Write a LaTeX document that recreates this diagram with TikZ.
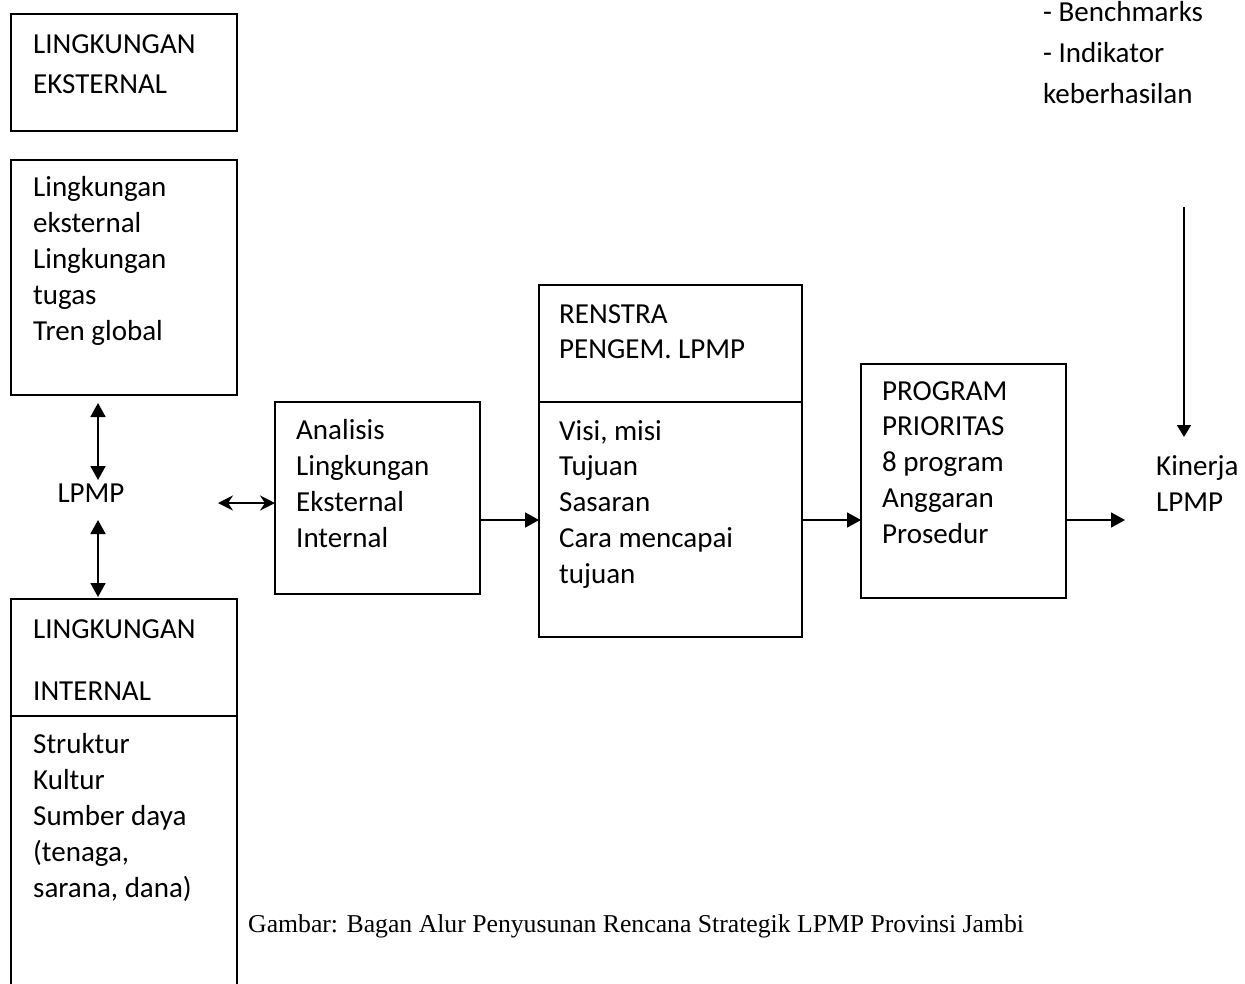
\documentclass[tikz,border=0pt]{standalone}
\usepackage{fontspec}
\setmainfont{Carlito}
\newfontfamily\capfont{Liberation Serif}
\usetikzlibrary{arrows.meta}
\begin{document}
\begin{tikzpicture}[x=1pt,y=-1pt,
  box/.style={draw, line width=1.8pt, inner sep=0pt, outer sep=0pt, anchor=north west},
  txt/.style={anchor=base west, inner sep=0pt, align=left, font=\fontsize{29}{36}\selectfont},
  conn/.style={line width=1.8pt, -{Triangle[length=14pt,width=15pt]}},
  dconn/.style={line width=1.8pt, {Triangle[length=14pt,width=15pt]}-{Triangle[length=14pt,width=15pt]}},
  sconn/.style={line width=1.5pt, {Stealth[length=15pt,width=15pt,inset=5pt]}-{Stealth[length=15pt,width=15pt,inset=5pt]}},
]
\useasboundingbox (0,0) rectangle (1245,983);

% boxes
\node[box, minimum width=226pt, minimum height=117pt] (extA) at (11,14) {};
\node[box, minimum width=226pt, minimum height=235pt] (extB) at (11,160) {};
\node[box, minimum width=226pt, minimum height=420pt] (intl) at (11,599) {};
\draw[line width=1.8pt] (11,716) -- (237,716);
\node[box, minimum width=205pt, minimum height=192pt] (anal) at (275,402) {};
\node[box, minimum width=263pt, minimum height=352pt] (ren) at (539,285) {};
\draw[line width=1.8pt] (539,402) -- (802,402);
\node[box, minimum width=205pt, minimum height=234pt] (prog) at (861,364) {};

% texts (anchor = baseline of the last line)
\node[txt, font=\fontsize{29}{40}\selectfont] (tA) at (33,93) {LINGKUNGAN\\EKSTERNAL};
\node[txt] (tB) at (33,340) {Lingkungan\\eksternal\\Lingkungan\\tugas\\Tren global};
\node[inner sep=0pt, font=\fontsize{29}{36}\selectfont] (lpmp) at (91,493) {LPMP};
\node[txt, font=\fontsize{29}{62}\selectfont] (tI) at (33,700) {LINGKUNGAN\\INTERNAL};
\node[txt] (tI2) at (33,897) {Struktur\\Kultur\\Sumber daya\\(tenaga,\\sarana, dana)};
\node[txt, font=\fontsize{29}{35.7}\selectfont] (tAn) at (296,547) {Analisis\\Lingkungan\\Eksternal\\Internal};
\node[txt, font=\fontsize{29}{35}\selectfont] (tR) at (559,358) {RENSTRA\\PENGEM. LPMP};
\node[txt, font=\fontsize{29}{35.75}\selectfont] (tR2) at (559,583) {Visi, misi\\Tujuan\\Sasaran\\Cara mencapai\\tujuan};
\node[txt, font=\fontsize{29}{35.75}\selectfont] (tP) at (882,543) {PROGRAM\\PRIORITAS\\8 program\\Anggaran\\Prosedur};
\node[txt] (kin) at (1156,511) {Kinerja\\LPMP};
\node[txt, font=\fontsize{29}{41}\selectfont] (bench) at (1043,103) {- Benchmarks\\- Indikator\\keberhasilan};
\node[anchor=base west, inner sep=0pt, font=\capfont\fontsize{25.7}{30}\selectfont] (cap) at (248,932) {Gambar: Bagan Alur Penyusunan Rencana Strategik LPMP Provinsi Jambi};

% connectors
\coordinate (a1) at (98,403);
\coordinate (a2) at (98,480);
\coordinate (a3) at (98,520);
\coordinate (a4) at (98,597);
\draw[dconn] (a1) -- (a2);
\draw[dconn] (a3) -- (a4);
\coordinate (h1) at (218,503);
\draw[sconn] (h1) -- (h1 -| anal.west);
\draw[conn] (anal.east |- 0,520) -- (ren.west |- 0,520);
\draw[conn] (ren.east |- 0,520) -- (prog.west |- 0,520);
\coordinate (kend) at (1125,520);
\draw[conn] (prog.east |- 0,520) -- (kend);
\coordinate (v1) at (1184,207);
\coordinate (v2) at (1184,437);
\draw[line width=1.8pt, -{Triangle[length=12pt,width=14pt]}] (v1) -- (v2);
\end{tikzpicture}
\end{document}
